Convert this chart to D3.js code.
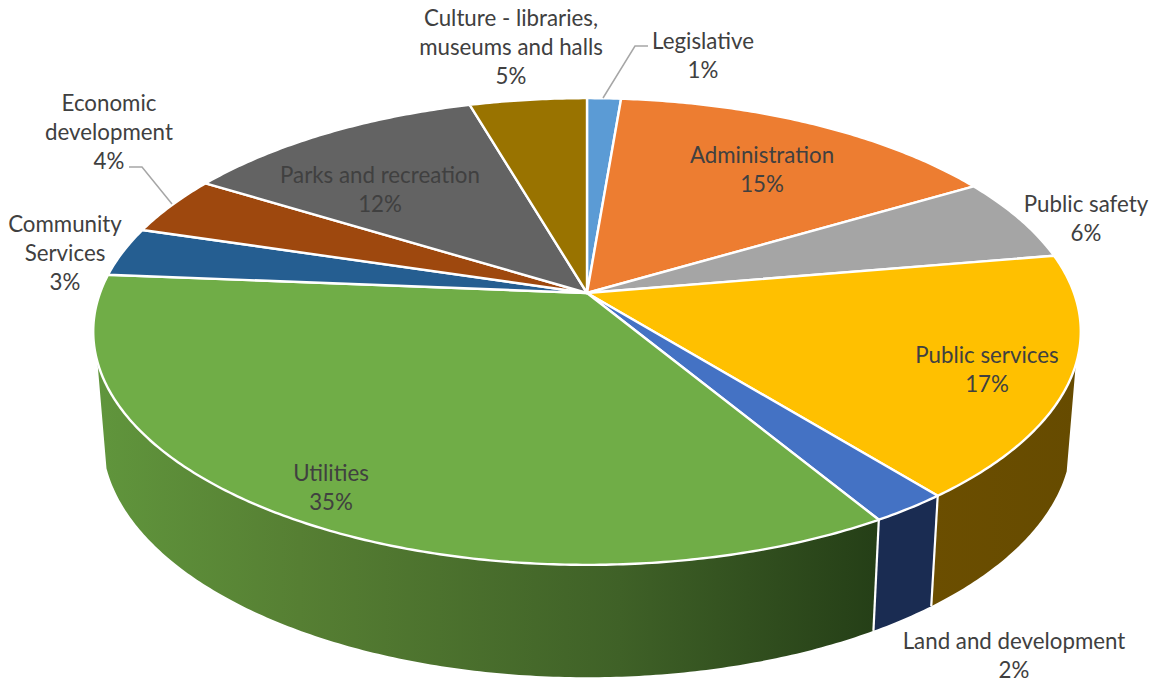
<!DOCTYPE html>
<html>
<head>
<meta charset="utf-8">
<script src="https://cdn.jsdelivr.net/npm/d3@7/dist/d3.min.js"></script>
<style>
  html, body { margin: 0; padding: 0; background: #fff; }
  svg { display: block; }
  text { font-family: Lato, "Open Sans", sans-serif; font-size: 22.3px; fill: #404040; text-anchor: middle; }
</style>
</head>
<body>
<svg id="chart" width="1156" height="683"></svg>
<script>
// Budget shares, in percent, clockwise from twelve o'clock
const categories = ["Legislative", "Administration", "Public safety", "Public services",
  "Land and development", "Utilities", "Community Services", "Economic development",
  "Parks and recreation", "Culture - libraries, museums and halls"];
const shares = [1.3, 15.2, 5.8, 16.9, 2.2, 34.9, 3.4, 4.1, 11.7, 4.5];

// Office palette for the slice tops
const topColors = ["#5b9bd5", "#ed7d31", "#a5a5a5", "#ffc000", "#4472c4",
  "#70ad47", "#255e91", "#9e480e", "#636363", "#997300"];

// Line breaks and anchor of every label: [x, first baseline, lines]
const labelLayout = [
  [703, 49, ["Legislative"]],
  [762, 163, ["Administration"]],
  [1086, 212, ["Public safety"]],
  [987, 363, ["Public services"]],
  [1014, 649, ["Land and development"]],
  [331, 481, ["Utilities"]],
  [65, 232, ["Community", "Services"]],
  [109, 111, ["Economic", "development"]],
  [380, 183, ["Parks and recreation"]],
  [511, 26, ["Culture - libraries,", "museums and halls"]]
];
const lineStep = 29;

// Leader lines for the two labels set away from their slices
const leaders = [
  [[603, 98], [635, 46], [648, 46]],
  [[129, 167], [142, 167], [172, 204]]
];

// Perspective disc: each rim is a projective image of the unit circle
const TAU = 2 * Math.PI;
const topRim = { cx: 587, cy: 293, sx: 487, sy: 227, k: 0.165 };
const baseRim = { cx: 587, cy: 397.5, sx: 478, sy: 233.6, k: 0.165 };
function project(rim, a, r = 1) {
  const x = r * Math.sin(a), y = -r * Math.cos(a), w = 1 - rim.k * y;
  return [rim.cx + rim.sx * x / w, rim.cy + rim.sy * y / w];
}
function arcPoints(rim, a0, a1) {
  const n = Math.max(2, Math.ceil((a1 - a0) / 0.01));
  return d3.range(n + 1).map(i => project(rim, a0 + (a1 - a0) * i / n));
}

const svg = d3.select("#chart");
const line = d3.line();
const pie = d3.pie().sort(null).value(d => d)(shares);

// Range of angles where the side wall faces the viewer
const wallStart = 107.5 / 360 * TAU, wallEnd = 253.2 / 360 * TAU;

// Wall shading darkens from left to right across the disc
const defs = svg.append("defs");
const wallShades = [
  { id: "wall-3", stops: ["#6b4e00", "#664b00"], x: [930, 1080] },
  { id: "wall-4", stops: ["#1a2c52", "#1a2c52"], x: [873, 937] },
  { id: "wall-5", stops: ["#60953c", "#567f33", "#3f6127", "#253f17"], x: [100, 300, 620, 875] }
];
wallShades.forEach(s => {
  const g = defs.append("linearGradient").attr("id", s.id)
    .attr("gradientUnits", "userSpaceOnUse")
    .attr("x1", s.x[0]).attr("x2", s.x[s.x.length - 1]).attr("y1", 0).attr("y2", 0);
  const span = d3.scaleLinear().domain([s.x[0], s.x[s.x.length - 1]]).range([0, 1]);
  s.stops.forEach((c, i) => {
    g.append("stop").attr("offset", span(s.x[i])).attr("stop-color", c);
  });
});

const walls = pie
  .map((d, i) => ({ i, a0: Math.max(d.startAngle, wallStart), a1: Math.min(d.endAngle, wallEnd) }))
  .filter(d => d.a1 > d.a0);

svg.append("g").selectAll("path").data(walls).join("path")
  .attr("d", d => line(arcPoints(topRim, d.a0, d.a1)
    .concat(arcPoints(baseRim, d.a0, d.a1).reverse())) + "Z")
  .attr("fill", d => `url(#wall-${d.i})`);

// White seams between neighbouring wall faces
svg.append("g").selectAll("path").data(walls.slice(1)).join("path")
  .attr("d", d => line([project(topRim, d.a0), project(baseRim, d.a0)]))
  .attr("stroke", "#fff").attr("stroke-width", 2.2).attr("fill", "none");

// Slice tops
svg.append("g").selectAll("path").data(pie).join("path")
  .attr("d", d => line([[topRim.cx, topRim.cy]].concat(arcPoints(topRim, d.startAngle, d.endAngle))) + "Z")
  .attr("fill", (d, i) => topColors[i])
  .attr("stroke", "#fff").attr("stroke-width", 2.4).attr("stroke-linejoin", "round");

svg.append("g").selectAll("path").data(leaders).join("path")
  .attr("d", d => line(d))
  .attr("fill", "none").attr("stroke", "#a6a6a6").attr("stroke-width", 1.5);

// Category names with the rounded share underneath
const percent = v => Math.round(v) + "%";
const labels = svg.append("g").selectAll("text").data(labelLayout).join("text")
  .attr("x", d => d[0]).attr("y", d => d[1]);
labels.each(function (d, i) {
  const rows = d[2].concat(percent(shares[i]));
  d3.select(this).selectAll("tspan").data(rows).join("tspan")
    .attr("x", d[0])
    .attr("y", (r, j) => d[1] + j * lineStep)
    .text(r => r);
});
</script>
</body>
</html>
